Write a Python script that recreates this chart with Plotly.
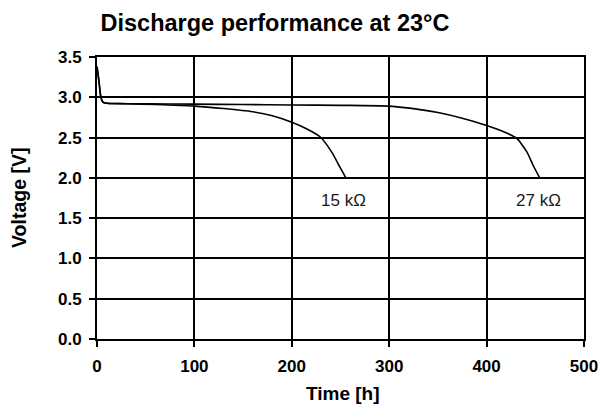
import plotly.graph_objects as go

t15 = [0, 2, 4, 6, 10, 30, 60, 100, 130, 160, 180, 200, 215, 229, 241, 250, 255.5]
v15 = [3.38, 3.2, 3.0, 2.94, 2.925, 2.92, 2.91, 2.89, 2.86, 2.82, 2.77, 2.69, 2.61, 2.51, 2.32, 2.12, 2.0]
t27 = [0, 2, 4, 6, 10, 50, 100, 150, 200, 250, 300, 330, 350, 375, 400, 420, 431, 441.5, 448, 454.5]
v27 = [3.38, 3.2, 3.0, 2.94, 2.925, 2.92, 2.915, 2.91, 2.905, 2.9, 2.89, 2.85, 2.81, 2.74, 2.65, 2.56, 2.49, 2.32, 2.15, 2.0]
labels = ["15 kΩ", "27 kΩ"]
label_pos = [(253, 1.72), (453, 1.72)]

xticks = [0, 100, 200, 300, 400, 500]
yticks = [0.0, 0.5, 1.0, 1.5, 2.0, 2.5, 3.0, 3.5]

FONT = "Liberation Sans, Arial, sans-serif"
W, H = 599, 405
L, R, T, B = 97, 15, 57, 66
PW, PH = W - L - R, H - T - B

fig = go.Figure()
for t, v in [(t15, v15), (t27, v27)]:
    fig.add_trace(go.Scatter(x=t, y=v, mode="lines",
                             line=dict(color="black", width=1.6, shape="spline", smoothing=0.6),
                             showlegend=False, hoverinfo="skip"))

for lab, (lx, ly) in zip(labels, label_pos):
    fig.add_annotation(x=lx, y=ly, text=lab, showarrow=False, xanchor="center", yanchor="middle",
                       font=dict(family=FONT, size=17, color="#1a1a1a"))

# axis titles (pixel positions converted to paper coordinates)
fig.add_annotation(xref="paper", yref="paper", x=(343 - L) / PW, y=-(393 - (H - B)) / PH,
                   text="<b>Time [h]</b>", showarrow=False, xanchor="center", yanchor="middle",
                   font=dict(family=FONT, size=19, color="black"))
fig.add_annotation(xref="paper", yref="paper", x=-(L - 19) / PW, y=0.5,
                   text="<b>Voltage [V]</b>", showarrow=False, xanchor="center", yanchor="middle",
                   textangle=-90, font=dict(family=FONT, size=19.5, color="black"))

fig.update_layout(
    width=W, height=H,
    margin=dict(l=L, r=R, t=T, b=B),
    paper_bgcolor="white", plot_bgcolor="white",
    title=dict(text="<b>Discharge performance at 23°C</b>", x=275 / W, xanchor="center",
               y=1 - 23 / H, yanchor="middle",
               font=dict(family=FONT, size=23.5, color="black")),
    font=dict(family=FONT, color="black"),
)
fig.update_xaxes(range=[0, 500], tickvals=xticks, ticktext=[f"<b>{v}</b>" for v in xticks],
                 showgrid=True, gridcolor="black", gridwidth=2,
                 showline=True, linecolor="black", linewidth=2, mirror=True,
                 ticks="outside", ticklen=6, tickwidth=2, tickcolor="black",
                 ticklabelstandoff=5, tickfont=dict(family=FONT, size=17, color="black"),
                 automargin=False, zeroline=False)
fig.update_yaxes(range=[0, 3.5], tickvals=yticks, ticktext=[f"<b>{v:.1f}</b>" for v in yticks],
                 showgrid=True, gridcolor="black", gridwidth=2,
                 showline=True, linecolor="black", linewidth=2, mirror=True,
                 ticks="outside", ticklen=6, tickwidth=2, tickcolor="black",
                 ticklabelstandoff=4, tickfont=dict(family=FONT, size=17, color="black"),
                 automargin=False, zeroline=False)

fig.write_html("out.html", config={"displayModeBar": False},
               post_script="document.body.style.margin='0';document.body.style.overflow='hidden';")
